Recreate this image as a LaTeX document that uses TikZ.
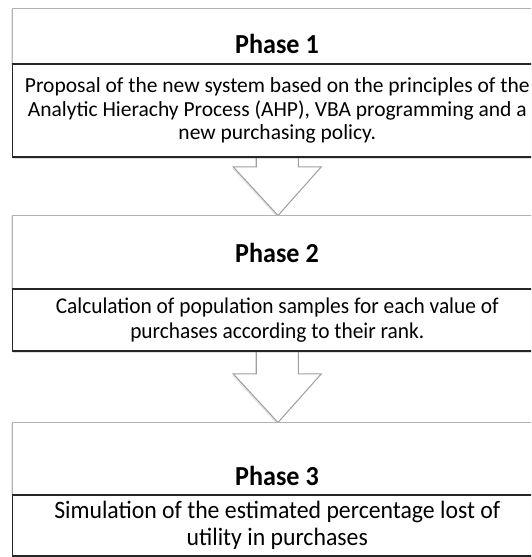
\documentclass[tikz,border=0pt]{standalone}
\usepackage{fontspec}
\setmainfont{Carlito}
\newfontfamily\condfont[FakeStretch=0.95]{Carlito}
\usetikzlibrary{shadows,calc,backgrounds}
\begin{document}
\begin{tikzpicture}[x=1pt,y=-1pt,
  headbox/.style={draw=gray!60, line width=1pt, fill=white, minimum width=529.5pt, inner sep=0pt,
    drop shadow={shadow xshift=-1.2pt, shadow yshift=-1pt, opacity=0.18}},
  textbox/.style={draw=black!85, line width=1.8pt, fill=white, minimum width=529.5pt, inner sep=0pt, align=center,
    drop shadow={shadow xshift=0.8pt, shadow yshift=-2pt, opacity=0.25}},
  headtext/.style={font=\condfont\fontsize{27.5}{30}\selectfont\bfseries, inner sep=0pt, anchor=base},
  blockarrow/.style={draw=gray!75, fill=white, line width=1pt, line join=miter,
    drop shadow={shadow xshift=-1.2pt, shadow yshift=-1.5pt, opacity=0.2}}
]
\useasboundingbox (0,0) rectangle (531,557);
\clip (0,0) rectangle (531,557);

% Phase 1
\node[headbox, minimum height=56pt] (h1) at (277.25,36) {};
\node[textbox, minimum height=93pt, font=\fontsize{21.5}{23.5}\selectfont] (t1) at (277.25,110.5)
  {Proposal of the new system based on the principles of the\\ Analytic Hierachy Process (AHP), VBA programming and a\\ new purchasing policy.};
\node[headtext] (p1) at (277,53.5) {Phase 1};

% Phase 2
\node[headbox, minimum height=74pt] (h2) at (277.25,252) {};
\node[textbox, minimum height=62pt, font=\condfont\fontsize{22.5}{25}\selectfont] (t2) at (277.25,320)
  {Calculation of population samples for each value of\\ purchases according to their rank.};
\node[headtext] (p2) at (277,262) {Phase 2};

% Phase 3
\node[headbox, minimum height=72pt] (h3) at (277.25,458) {};
\node[textbox, minimum height=61pt, font=\condfont\fontsize{25}{27}\selectfont] (t3) at (277.25,525.5)
  {Simulation of the estimated percentage lost of\\ utility in purchases};
\node[headtext] (p3) at (277,485) {Phase 3};

\begin{scope}[on background layer]
\draw[blockarrow] ($(t1.south)+(-21,-6)$) -- ($(t1.south)+(-21,9)$) -- ($(t1.south)+(-44,9)$)
  -- ($(h2.north)+(0.75,1)$) -- ($(t1.south)+(44,9)$) -- ($(t1.south)+(21,9)$) -- ($(t1.south)+(21,-6)$);
\draw[blockarrow] ($(t2.south)+(-21,-6)$) -- ($(t2.south)+(-21,22)$) -- ($(t2.south)+(-44,22)$)
  -- ($(h3.north)+(0.75,1)$) -- ($(t2.south)+(44,22)$) -- ($(t2.south)+(21,22)$) -- ($(t2.south)+(21,-6)$);
\end{scope}
\end{tikzpicture}
\end{document}
